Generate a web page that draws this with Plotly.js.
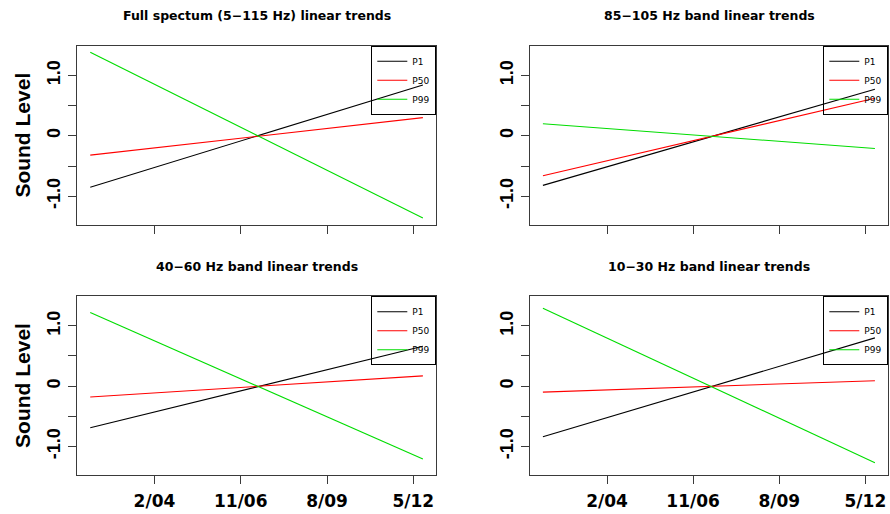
<!DOCTYPE html>
<html><head><meta charset="utf-8">
<script src="https://cdn.plot.ly/plotly-3.0.1.min.js"></script>
<style>html,body{margin:0;padding:0;background:#fff}#chart{width:890px;height:514px}</style>
</head><body><div id="chart"></div>
<script>
// ---- data ----
const trendDates = ["2002-01-15", "2012-08-20"];
const seriesNames = ["P1", "P50", "P99"];
const panelTitles = [
  "Full spectum (5\u2212115 Hz) linear trends",
  "85\u2212105 Hz band linear trends",
  "40\u221260 Hz band linear trends",
  "10\u221230 Hz band linear trends"
];
const fullP1 = [-0.85, 0.84];
const fullP50 = [-0.32, 0.30];
const fullP99 = [1.38, -1.36];
const band85P1 = [-0.82, 0.77];
const band85P50 = [-0.66, 0.62];
const band85P99 = [0.20, -0.21];
const band40P1 = [-0.69, 0.66];
const band40P50 = [-0.18, 0.17];
const band40P99 = [1.22, -1.21];
const band10P1 = [-0.84, 0.80];
const band10P50 = [-0.10, 0.09];
const band10P99 = [1.29, -1.27];
const xTickDates = ["2004-02-01", "2006-11-01", "2009-08-01", "2012-05-01"];
const xTickLabels = ["2/04", "11/06", "8/09", "5/12"];
const yTickValues = [-1, -0.5, 0, 0.5, 1];
const yTickLabels = ["-1.0", "", "0", "", "1.0"];

// ---- styling / layout ----
const panels = [
  [fullP1, fullP50, fullP99],
  [band85P1, band85P50, band85P99],
  [band40P1, band40P50, band40P99],
  [band10P1, band10P50, band10P99]
];
const colors = ["#000000", "#ff0000", "#00dd00"];
const W = 890, H = 514;
const boxes = [ // left, right, top, bottom in px
  [77, 436.3, 45.7, 224.7],
  [529.7, 888.3, 45.7, 224.7],
  [77, 436.3, 296.3, 474.7],
  [529.7, 888.3, 296.3, 474.7]
];
const frameColor = "#3a3a3a";
const traces = [];
const layout = {
  width: W, height: H,
  margin: {l: 0, r: 0, t: 0, b: 0},
  paper_bgcolor: "#fff", plot_bgcolor: "#fff",
  annotations: [],
  showlegend: true
};
panels.forEach((series, p) => {
  const sfx = p === 0 ? "" : String(p + 1);
  const legName = p === 0 ? "legend" : "legend" + (p + 1);
  series.forEach((vals, s) => {
    traces.push({
      type: "scatter", mode: "lines",
      x: trendDates, y: vals,
      name: seriesNames[s],
      xaxis: "x" + sfx, yaxis: "y" + sfx,
      legend: legName,
      line: {color: colors[s], width: 1.1},
      hoverinfo: "skip"
    });
  });
  const b = boxes[p];
  const bottomRow = p >= 2;
  const leftCol = p % 2 === 0;
  layout["xaxis" + sfx] = {
    domain: [b[0] / W, b[1] / W], anchor: "y" + sfx,
    type: "date", range: ["2001-08-14", "2013-01-23"],
    tickmode: "array", tickvals: xTickDates,
    ticktext: xTickLabels, showticklabels: bottomRow,
    ticks: "outside", ticklen: 8, tickwidth: 1, tickcolor: frameColor,
    ticklabelstandoff: 3,
    showline: true, mirror: true, linecolor: frameColor, linewidth: 1,
    showgrid: false, zeroline: false, fixedrange: true,
    tickfont: {family: "DejaVu Sans", size: 17, color: "#000", weight: "bold"}
  };
  layout["yaxis" + sfx] = {
    domain: [1 - b[3] / H, 1 - b[2] / H], anchor: "x" + sfx,
    range: [-1.47, 1.49],
    tickmode: "array", tickvals: yTickValues, ticktext: yTickLabels,
    tickangle: -90,
    ticks: "outside", ticklen: 8, tickwidth: 1, tickcolor: frameColor,
    ticklabelstandoff: 1,
    showline: true, mirror: true, linecolor: frameColor, linewidth: 1,
    showgrid: false, zeroline: false, fixedrange: true,
    tickfont: {family: "Liberation Sans", size: 18, color: "#000", weight: "bold"},
    title: leftCol ? {text: "Sound Level", standoff: 7,
      font: {family: "Liberation Sans", size: 21, color: "#000", weight: "bold"}} : {text: ""}
  };
  layout[legName] = {
    x: b[1] / W, y: 1 - b[2] / H, xanchor: "right", yanchor: "top",
    xref: "paper", yref: "paper",
    bgcolor: "rgba(255,255,255,0)", bordercolor: "#000", borderwidth: 1,
    font: {family: "DejaVu Sans", size: 9, color: "#000"},
    itemwidth: 30, tracegroupgap: 0
  };
  layout.annotations.push({
    text: panelTitles[p], showarrow: false,
    xref: "x" + sfx + " domain", yref: "y" + sfx + " domain",
    x: 0.5, y: 1.169, xanchor: "center", yanchor: "middle",
    font: {family: "DejaVu Sans", size: 12.5, color: "#000", weight: "bold"}
  });
});
Plotly.newPlot("chart", traces, layout, {staticPlot: true, displayModeBar: false});
</script>
</body></html>
